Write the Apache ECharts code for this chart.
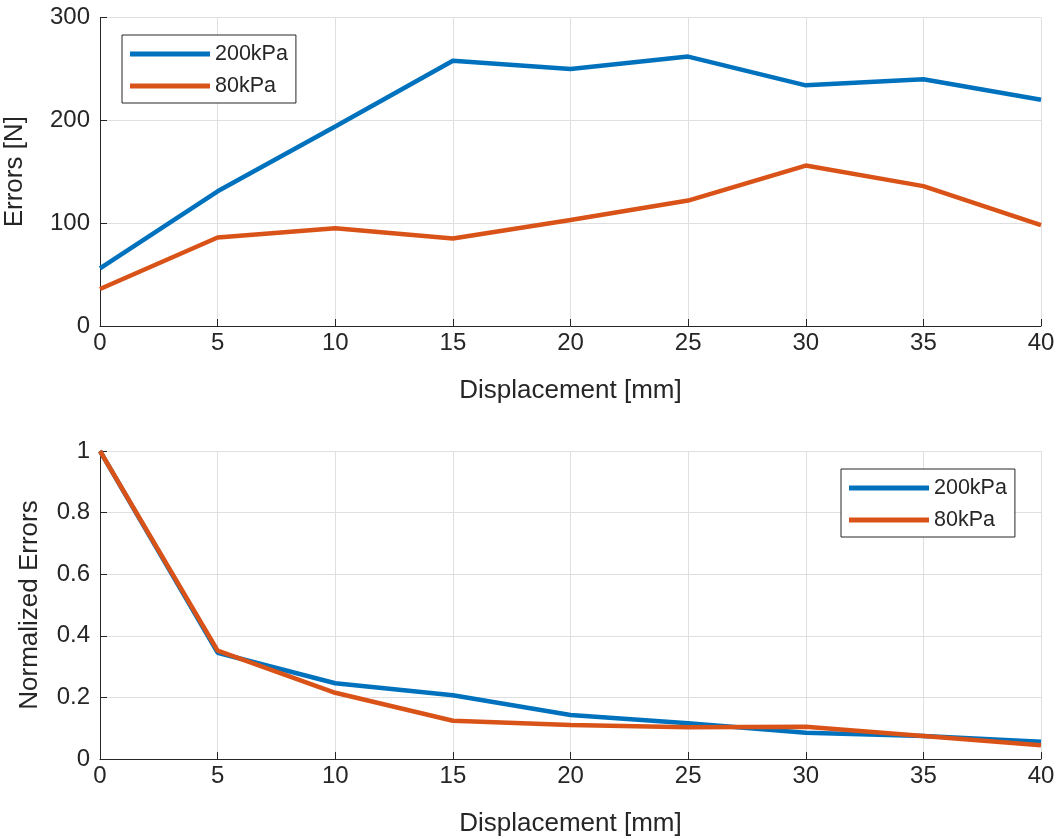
<!DOCTYPE html>
<html>
<head>
<meta charset="utf-8">
<script src="https://cdn.jsdelivr.net/npm/echarts@6/dist/echarts.min.js"></script>
<style>
html,body{margin:0;padding:0;background:#fff;}
#chart{width:1059px;height:839px;}
</style>
</head>
<body>
<div id="chart"></div>
<script>
const displacement = [0, 5, 10, 15, 20, 25, 30, 35, 40];
const errors200 = [56, 131, 194, 258, 250, 262, 234, 240, 220];
const errors80 = [36, 86, 95, 85, 103, 122, 156, 136, 98];
const norm200 = [1, 0.345, 0.246, 0.207, 0.143, 0.116, 0.085, 0.075, 0.056];
const norm80 = [1, 0.352, 0.215, 0.124, 0.110, 0.103, 0.105, 0.075, 0.045];
const seriesNames = ['200kPa', '80kPa'];
const xTitle = 'Displacement [mm]';
const yTitleTop = 'Errors [N]';
const yTitleBottom = 'Normalized Errors';

const FONT = '"Liberation Sans", Arial, Helvetica, sans-serif';
const INK = '#262626';
const GRIDC = '#dfdfdf';
const BLUE = '#0072BD';
const ORANGE = '#D95319';

function pairs(xs, ys) { return xs.map((x, i) => [x, ys[i]]); }

function xAxisCfg(gridIndex) {
  return {
    type: 'value', gridIndex, min: 0, max: 40, interval: 5,
    name: xTitle, nameLocation: 'middle', nameGap: 52,
    nameTextStyle: { color: INK, fontSize: 26, fontFamily: FONT },
    axisLine: { show: true, onZero: false, lineStyle: { color: INK, width: 1 } },
    axisTick: { show: true, inside: true, length: 7, lineStyle: { color: INK } },
    axisLabel: { color: INK, fontSize: 24, fontFamily: FONT, margin: 5 },
    splitLine: { show: true, lineStyle: { color: GRIDC, width: 1 } }
  };
}
function yAxisCfg(gridIndex, min, max, interval, name, gap) {
  return {
    type: 'value', gridIndex, min, max, interval,
    name, nameLocation: 'middle', nameGap: gap,
    nameTextStyle: { color: INK, fontSize: 26, fontFamily: FONT },
    axisLine: { show: true, onZero: false, lineStyle: { color: INK, width: 1 } },
    axisTick: { show: true, inside: true, length: 7, lineStyle: { color: INK } },
    axisLabel: { color: INK, fontSize: 24, fontFamily: FONT, margin: 10 },
    splitLine: { show: true, lineStyle: { color: GRIDC, width: 1 } }
  };
}
function legendCfg(pos) {
  return Object.assign({
    orient: 'vertical',
    data: seriesNames,
    icon: 'rect', itemWidth: 80, itemHeight: 5, itemGap: 10,
    padding: [8, 8, 6, 8],
    borderColor: INK, borderWidth: 1, backgroundColor: '#fff',
    textStyle: { color: INK, fontSize: 21.5, fontFamily: FONT }
  }, pos);
}
function lineSeries(name, color, xi, yi, data) {
  return {
    type: 'line', name, xAxisIndex: xi, yAxisIndex: yi, data,
    showSymbol: false, symbol: 'none', animation: false,
    lineStyle: { color, width: 4.5 }, itemStyle: { color }
  };
}

const chart = echarts.init(document.getElementById('chart'), null, { renderer: 'canvas' });
chart.setOption({
  backgroundColor: '#fff',
  animation: false,
  grid: [
    { left: 100, right: 18, top: 17.5, height: 308.5, containLabel: false, outerBoundsMode: 'none' },
    { left: 100, right: 18, top: 451, height: 308, containLabel: false, outerBoundsMode: 'none' }
  ],
  xAxis: [xAxisCfg(0), xAxisCfg(1)],
  yAxis: [
    yAxisCfg(0, 0, 300, 100, yTitleTop, 72),
    yAxisCfg(1, 0, 1, 0.2, yTitleBottom, 57)
  ],
  legend: [
    legendCfg({ left: 122, top: 35 }),
    legendCfg({ left: 841, top: 469 })
  ],
  series: [
    lineSeries(seriesNames[0], BLUE, 0, 0, pairs(displacement, errors200)),
    lineSeries(seriesNames[1], ORANGE, 0, 0, pairs(displacement, errors80)),
    lineSeries(seriesNames[0], BLUE, 1, 1, pairs(displacement, norm200)),
    lineSeries(seriesNames[1], ORANGE, 1, 1, pairs(displacement, norm80))
  ]
});
</script>
</body>
</html>
